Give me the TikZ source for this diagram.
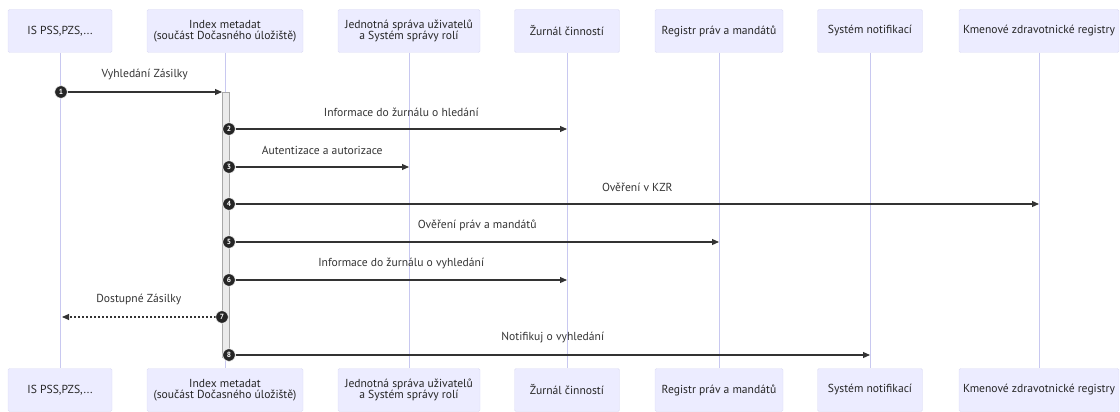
\documentclass[tikz,border=0pt]{standalone}
\usepackage{fontspec}
\setmainfont{PT Sans}
\usetikzlibrary{arrows.meta}
\definecolor{actorfill}{HTML}{ECECFF}
\definecolor{actorline}{HTML}{DCDCF4}
\definecolor{lifeline}{HTML}{C8C8F0}
\definecolor{msg}{HTML}{333333}
\definecolor{actfill}{HTML}{EBEBEB}
\definecolor{actline}{HTML}{A8A8A8}
\tikzset{
  actor/.style={draw=actorline, fill=actorfill, rounded corners=1.5pt,
    minimum height=43pt, inner sep=0pt, align=center, text=black!85,
    font=\fontsize{11.6}{11.5}\selectfont},
  life/.style={draw=lifeline, line width=0.8pt},
  msgline/.style={draw=msg, line width=1.1pt, -{Triangle[length=7pt,width=6pt]}},
  reply/.style={msgline, dash pattern=on 2pt off 2pt},
  num/.style={circle, fill=black!85, draw=white, line width=0.5pt, text=white,
    inner sep=0pt, minimum size=12.5pt, font=\bfseries\fontsize{7.5}{7.5}\selectfont},
  lbl/.style={midway, text=black!80, yshift=17pt, font=\fontsize{11.6}{12}\selectfont},
  activation/.style={draw=actline, fill=actfill, line width=0.6pt,
    minimum width=7pt, inner sep=0pt}
}
\begin{document}
\begin{tikzpicture}[x=1pt,y=-1pt]
\useasboundingbox (0,0) rectangle (1120,412);

% participants, top row
\node[actor, minimum width=104pt] (pT) at (60,31)  {IS PSS,PZS,...};
\node[actor, minimum width=156pt] (iT) at (225,31) {Index metadat\\(součást Dočasného úložiště)};
\node[actor, minimum width=142pt] (jT) at (409,31) {Jednotná správa uživatelů\\a Systém správy rolí};
\node[actor, minimum width=105pt] (zT) at (567,31) {Žurnál činností};
\node[actor, minimum width=128pt] (rT) at (719,31) {Registr práv a mandátů};
\node[actor, minimum width=105pt] (sT) at (870,31) {Systém notifikací};
\node[actor, minimum width=160pt] (kT) at (1039,31) {Kmenové zdravotnické registry};

% participants, bottom row
\node[actor, minimum width=104pt] (pB) at (60,390)  {IS PSS,PZS,...};
\node[actor, minimum width=156pt] (iB) at (225,390) {Index metadat\\(součást Dočasného úložiště)};
\node[actor, minimum width=142pt] (jB) at (409,390) {Jednotná správa uživatelů\\a Systém správy rolí};
\node[actor, minimum width=105pt] (zB) at (567,390) {Žurnál činností};
\node[actor, minimum width=128pt] (rB) at (719,390) {Registr práv a mandátů};
\node[actor, minimum width=105pt] (sB) at (870,390) {Systém notifikací};
\node[actor, minimum width=160pt] (kB) at (1039,390) {Kmenové zdravotnické registry};

% lifelines
\foreach \p in {p,i,j,z,r,s,k} \draw[life] (\p T.south) -- (\p B.north);

% activation of the index
\node[activation, minimum height=265pt] (act) at (225.5,224.5) {};

% message ends on the lifelines
\coordinate (e1) at (222,92);
\coordinate (e2) at (zT.south |- 0,129);
\coordinate (e3) at (jT.south |- 0,167);
\coordinate (e4) at (kT.south |- 0,204);
\coordinate (e5) at (rT.south |- 0,242);
\coordinate (e6) at (zT.south |- 0,280);
\coordinate (e7) at (62,317);
\coordinate (e8) at (sT.south |- 0,355);

% sequence numbers
\node[num] (n1) at (61,92)  {1};
\node[num] (n2) at (229,129) {2};
\node[num] (n3) at (229,167) {3};
\node[num] (n4) at (229,204) {4};
\node[num] (n5) at (229,242) {5};
\node[num] (n6) at (229,280) {6};
\node[num] (n7) at (222,317) {7};
\node[num] (n8) at (229,355) {8};

% messages
\draw[msgline] (n1) -- node[lbl] {Vyhledání Zásilky} (e1);
\draw[msgline] (n2) -- node[lbl] {Informace do žurnálu o hledání} (e2);
\draw[msgline] (n3) -- node[lbl] {Autentizace a autorizace} (e3);
\draw[msgline] (n4) -- node[lbl] {Ověření v KZR} (e4);
\draw[msgline] (n5) -- node[lbl] {Ověření práv a mandátů} (e5);
\draw[msgline] (n6) -- node[lbl] {Informace do žurnálu o vyhledání} (e6);
\draw[reply]   (n7) -- node[lbl] {Dostupné Zásilky} (e7);
\draw[msgline] (n8) -- node[lbl] {Notifikuj o vyhledání} (e8);

% numbers on top of the lines
\foreach \i in {1,...,8} \node[num] at (n\i) {\i};
\end{tikzpicture}
\end{document}
